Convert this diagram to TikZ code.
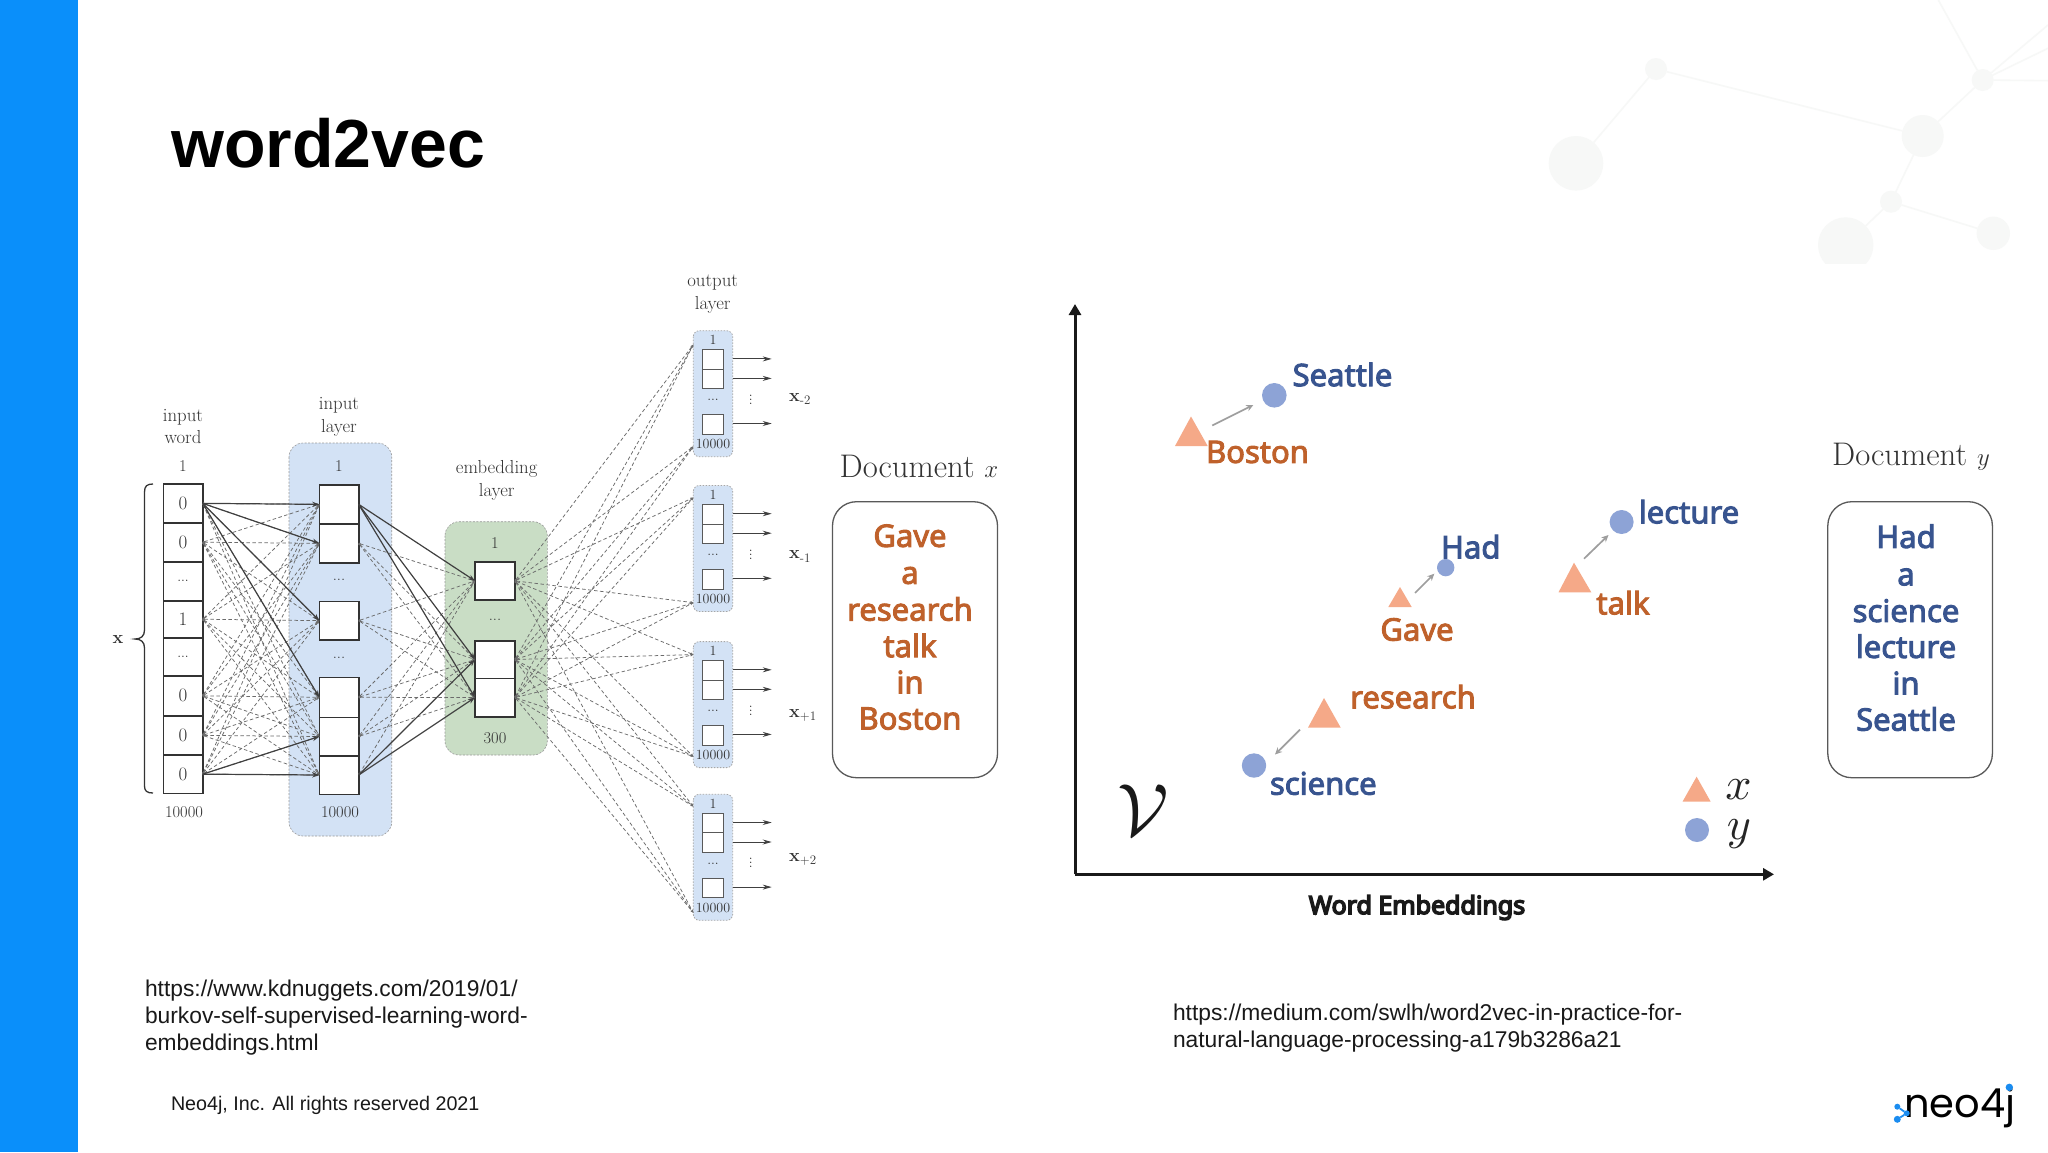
\documentclass[tikz,border=0pt]{standalone}
\usepackage{fontspec}
\usetikzlibrary{arrows.meta}
\newfontfamily\arialfont{Liberation Sans}
\newfontfamily\wordfont{Noto Sans}[FakeBold=3]
\newfontfamily\axisfont{Noto Sans}[FakeBold=6]
\newfontfamily\logofont{Poppins}
\definecolor{barblue}{HTML}{0A8FFA}
\definecolor{faint}{HTML}{F7F8F7}
\definecolor{layerblue}{HTML}{D3E2F5}
\definecolor{layergreen}{HTML}{C9DDC5}
\definecolor{inkdark}{HTML}{333333}
\definecolor{wordorange}{HTML}{BF612B}
\definecolor{wordblue}{HTML}{38548F}
\definecolor{tri}{HTML}{F5A988}
\definecolor{dotblue}{HTML}{8DA3D6}
\definecolor{logoblue}{HTML}{1A8CF0}
\tikzset{
  txt/.style={inner sep=0pt,outer sep=0pt,text=inkdark,font=\fontsize{18.8}{22.5}\selectfont,align=center},
  numtxt/.style={inner sep=0pt,outer sep=0pt,text=inkdark,font=\fontsize{16.5}{16.5}\selectfont},
  smalltxt/.style={inner sep=0pt,outer sep=0pt,text=inkdark,font=\fontsize{14}{14}\selectfont},
  cellbox/.style={draw=inkdark,line width=1.6pt,fill=white,inner sep=0pt,outer sep=0pt,minimum width=39.4pt,text=inkdark,font=\fontsize{19}{19}\selectfont},
  minibox/.style={draw=black!65,line width=1.1pt,fill=white,inner sep=0pt,outer sep=0pt,minimum width=21pt},
  layerzone/.style={rounded corners=14pt,dashed,dash pattern=on 2pt off 1.5pt,draw=black!40,line width=.6pt},
  minizone/.style={rounded corners=6pt,dash pattern=on 1.5pt off 1.5pt,draw=black!35,line width=.8pt,fill=layerblue},
  solidlink/.style={draw=black!75,line width=1.2pt,-{Stealth[length=7pt,width=5pt]}},
  dashlink/.style={draw=black!58,line width=.75pt,dash pattern=on 3.5pt off 2.5pt,{Circle[length=2pt]}-{Stealth[length=3pt,width=2.4pt]}},
  outlink/.style={draw=black!75,line width=.9pt,-{Stealth[length=9pt,width=5pt]}},
  shiftlink/.style={draw=black!38,line width=1.7pt,-{Stealth[length=7pt,width=6.5pt]}},
  axisline/.style={draw=black!90,line width=3pt,-{Triangle[length=11pt,width=12pt]}},
  bgnode/.style={circle,fill=faint,inner sep=0pt,outer sep=0pt},
  bgline/.style={draw=faint,line width=1.6pt},
  wo/.style={inner sep=0pt,outer sep=0pt,text=wordorange,font=\wordfont\fontsize{31}{31}\selectfont},
  wb/.style={inner sep=0pt,outer sep=0pt,text=wordblue,font=\wordfont\fontsize{31}{31}\selectfont},
  docbox/.style={draw=black!65,line width=1.3pt,rounded corners=24pt,fill=white},
  doctitle/.style={inner sep=0pt,outer sep=0pt,text=inkdark,font=\fontsize{32.7}{32.7}\selectfont},
  bluedot/.style={circle,fill=dotblue,inner sep=0pt,outer sep=0pt},
  slidetxt/.style={inner sep=0pt,outer sep=0pt,align=left,text=black!90,font=\arialfont\fontsize{22.8}{27.4}\selectfont},
  logodot/.style={circle,fill=logoblue,inner sep=0pt,outer sep=0pt},
}
\begin{document}
\begin{tikzpicture}[x=1pt,y=-1pt]
\useasboundingbox (0,0) rectangle (2048,1152);
\fill[white] (0,0) rectangle (2048,1152);
% faint background graph
\begin{scope}
\clip (1500,0) rectangle (2048,263.5);
\node[bgnode,minimum size=54.6pt] (ga) at (1576,163.3) {};
\node[bgnode,minimum size=22pt] (gb) at (1656,69) {};
\node[bgnode,minimum size=42pt] (gc) at (1922.7,136) {};
\node[bgnode,minimum size=22pt] (gd) at (1982.7,80) {};
\node[bgnode,minimum size=22pt] (ge) at (1891,201.7) {};
\node[bgnode,minimum size=55.4pt] (gf) at (1845.7,245) {};
\node[bgnode,minimum size=33.4pt] (gg) at (1993.3,233.3) {};
\coordinate (g1) at (1938.3,0);
\coordinate (g2) at (2048,25);
\coordinate (g3) at (2048,48.3);
\coordinate (g4) at (2048,80.7);
\draw[bgline] (gb)--(ga) (gb)--(gc) (gc)--(gd) (gd)--(g1) (gd)--(g2) (gd)--(g3) (gd)--(g4) (gc)--(ge) (ge)--(gf) (ge)--(gg);
\end{scope}
% bar and title
\fill[barblue] (0,0) rectangle (78.4,1152);
\node[anchor=base west,inner sep=0pt,font=\arialfont\bfseries\fontsize{68}{68}\selectfont,text=black] (title) at (171,167) {word2vec};
% left figure zones
\draw[layerzone,fill=layerblue] (289,443) rectangle (391.7,836);
\draw[layerzone,fill=layergreen] (445,521.7) rectangle (547.3,755);
% input word column
\foreach \n/\t/\b/\s in {1/484/522.7/0,2/522.7/561.7/0,3/561.7/600.7/{\fontsize{14}{14}\selectfont ...},4/600.7/637.7/1,5/637.7/676/{\fontsize{14}{14}\selectfont ...},6/676/715.7/0,7/715.7/755/0,8/755/793.3/0}
  \node[cellbox,minimum height={\b-\t}] (in\n) at (183,{(\t+\b)/2}) {\s};
% input layer
\foreach \n/\t/\b in {1/484.7/524,2/524/562.7,3/601.3/640,4/677.3/717.3,5/717.3/755.7,6/755.7/794.3}
  \node[cellbox,minimum height={\b-\t}] (hl\n) at (339,{(\t+\b)/2}) {};
% embedding layer
\foreach \n/\t/\b in {1/561.7/600,2/640.7/678.3,3/678.3/716.7}
  \node[cellbox,minimum height={\b-\t},minimum width=40pt] (em\n) at (495,{(\t+\b)/2}) {};
% labels
\node[txt] (lwd) at (183,426.5) {input\\word};
\node[numtxt] (lw1) at (183,466) {1};
\node[numtxt] (lw2) at (184,811.7) {10000};
\node[txt] (lil) at (339,417) {input\\layer};
\node[numtxt] (li1) at (339,466) {1};
\node[numtxt] (li2) at (340,811.7) {10000};
\node[numtxt] (lid1) at (339,580) {...};
\node[numtxt] (lid2) at (339,658) {...};
\node[txt] (lem) at (496.7,480.5) {embedding\\layer};
\node[numtxt] (le1) at (495,543) {1};
\node[numtxt] (led) at (495,620) {...};
\node[numtxt] (le2) at (495,738) {300};
\node[txt] (lout) at (712.7,294) {output\\layer};
\node[inner sep=0pt,text=inkdark,font=\bfseries\fontsize{18}{18}\selectfont] (lx) at (118,639) {x};
\draw[draw=inkdark,line width=1.3pt] (153,484) .. controls (147,484) and (144.5,486) .. (144.5,492) -- (144.5,630) .. controls (144.5,636) and (141,639) .. (135,639) .. controls (141,639) and (144.5,642) .. (144.5,648) -- (144.5,786) .. controls (144.5,791) and (147,793) .. (153,793);
% output groups
\foreach \g/\top/\yt/\yb/\lab/\ly in {1/330.7/344.6/446.5/{-2}/398.9,2/485.5/497.6/602.6/{-1}/556.7,3/641.6/654.6/756.5/{+1}/715.5,4/794.3/806.4/912.6/{+2}/859.4}{
  \draw[minizone] (693.3,\top) rectangle (732.7,\top+126);
  \node[smalltxt] (o\g n1) at (713,\top+9.5) {1};
  \node[smalltxt] (o\g n2) at (713,\top+113.6) {10000};
  \node[smalltxt] (o\g d) at (713,\top+69.5) {...};
  \node[minibox,minimum height=19.6pt] (o\g a) at (713.2,\top+28.8) {};
  \node[minibox,minimum height=19.4pt] (o\g b) at (713.2,\top+48.3) {};
  \node[minibox,minimum height=19.6pt] (o\g c) at (713.2,\top+93.8) {};
  \coordinate (o\g ea) at (771.7,\top+28.2);
  \coordinate (o\g eb) at (771.7,\top+47.7);
  \coordinate (o\g ec) at (771.7,\top+92.8);
  \coordinate (o\g sa) at (733,\top+28.2);
  \coordinate (o\g sb) at (733,\top+47.7);
  \coordinate (o\g sc) at (733,\top+92.8);
  \draw[outlink] (o\g sa)--(o\g ea);
  \draw[outlink] (o\g sb)--(o\g eb);
  \draw[outlink] (o\g sc)--(o\g ec);
  \node[inner sep=0pt,text=inkdark,font=\fontsize{14}{14}\selectfont] (o\g v) at (750.7,\top+66) {$\vdots$};
  \coordinate (t\g) at (693.3,\yt);
  \coordinate (b\g) at (693.3,\yb);
  \node[anchor=west,inner sep=0pt,text=inkdark,font=\bfseries\fontsize{18}{18}\selectfont] (ox\g) at (789,\ly) {x\raisebox{-3.5pt}{\mdseries\fontsize{13}{13}\selectfont\lab}};
}
% input word -> input layer
\foreach \a in {1,2,4,6,7,8}
  \foreach \b in {1,...,6}
    \draw[dashlink] (in\a.east)--(hl\b.west);
\foreach \b in {1,2,3,4} \draw[solidlink] (in1.east)--(hl\b.west);
\foreach \b in {5,6} \draw[solidlink] (in8.east)--(hl\b.west);
% input layer -> embedding
\foreach \a in {2,3,4,5}
  \foreach \b in {1,2,3}
    \draw[dashlink] (hl\a.east)--(em\b.west);
\draw[dashlink] (hl6.east)--(em1.west);
\foreach \b in {1,2,3} \draw[solidlink] (hl1.east)--(em\b.west);
\foreach \b in {2,3} \draw[solidlink] (hl6.east)--(em\b.west);
% embedding -> output
\foreach \a in {1,2,3}
  \foreach \g in {1,2,3,4}{
    \draw[dashlink] (em\a.east)--(t\g);
    \draw[dashlink] (em\a.east)--(b\g);
  }
% document boxes
\node[doctitle] (dxt) at (919,466) {Document $x$};
\node[doctitle] (dyt) at (1911,456.7) {Document $y$};
\draw[docbox] (832.5,501.7) rectangle (997.5,777.7);
\draw[docbox] (1827.8,501.7) rectangle (1992.4,777.7);
\foreach \n/\w/\y in {1/Gave/535.8,2/a/575.5,3/research/609,4/talk/645.5,5/in/682,6/Boston/718.6}
  \node[wo] (dx\n) at (910,\y) {\w};
\foreach \n/\w/\y in {1/Had/536.3,2/a/577,3/science/610.7,4/lecture/646.3,5/in/683,6/Seattle/719}
  \node[wb] (dy\n) at (1906,\y) {\w};
% axes
\coordinate (ax0) at (1075,874.3);
\coordinate (axx) at (1774,874.3);
\coordinate (axy) at (1075,304);
\draw[axisline] (ax0)--(axx);
\draw[axisline] (ax0)--(axy);
\node[inner sep=0pt,text=black!90,font=\axisfont\fontsize{25}{25}\selectfont] (axl) at (1417,907.5) {Word Embeddings};
\node[inner sep=0pt,scale=7.4,text=black!90] (vv) at (1143,810) {$\mathcal{V}$};
% triangles
\fill[tri] (1175,446) -- (1191,416.5) -- (1207.7,446) -- cycle;
\fill[tri] (1388.3,607) -- (1400,587) -- (1411.7,607) -- cycle;
\fill[tri] (1308,727.6) -- (1324,698) -- (1340.7,727.6) -- cycle;
\fill[tri] (1558.5,592.3) -- (1574,562.7) -- (1591.3,592.3) -- cycle;
\fill[tri] (1682.5,801.7) -- (1696.6,776.7) -- (1710.7,801.7) -- cycle;
% dots
\node[bluedot,minimum size=24.6pt] (dseattle) at (1274.3,395.3) {};
\node[bluedot,minimum size=17.4pt] (dhad) at (1445.7,567.6) {};
\node[bluedot,minimum size=24.4pt] (dscience) at (1254,765.5) {};
\node[bluedot,minimum size=24pt] (dlecture) at (1621.6,522) {};
\node[bluedot,minimum size=24pt] (dlegend) at (1697,830) {};
% shift arrows
\coordinate (s1a) at (1212.3,425.5); \coordinate (s1b) at (1253.3,405);
\coordinate (s2a) at (1415,593); \coordinate (s2b) at (1434.3,573.7);
\coordinate (s3a) at (1300,729.6); \coordinate (s3b) at (1275,754.5);
\coordinate (s4a) at (1584,558.7); \coordinate (s4b) at (1608.5,535);
\draw[shiftlink] (s1a)--(s1b);
\draw[shiftlink] (s2a)--(s2b);
\draw[shiftlink] (s3a)--(s3b);
\draw[shiftlink] (s4a)--(s4b);
% chart words
\node[wb] (wseattle) at (1342.5,374.5) {Seattle};
\node[wo] (wboston) at (1257.5,452) {Boston};
\node[wb] (whad) at (1470.7,546.7) {Had};
\node[wo] (wgave) at (1417,629.5) {Gave};
\node[wo] (wresearch) at (1413,696.7) {research};
\node[wb] (wscience) at (1323.3,783.4) {science};
\node[wb] (wlecture) at (1689,511.7) {lecture};
\node[wo] (wtalk) at (1623,602.7) {talk};
\node[inner sep=0pt,scale=4.6,text=black!85] (lgx) at (1738.6,790) {$x$};
\node[inner sep=0pt,scale=4.6,text=black!85] (lgy) at (1739,834) {$y$};
% slide text
\node[slidetxt,anchor=north west] (url1) at (145,979.5) {https://www.kdnuggets.com/2019/01/\\burkov-self-supervised-learning-word-\\embeddings.html};
\node[slidetxt,anchor=north west] (url2) at (1173,1004) {https://medium.com/swlh/word2vec-in-practice-for-\\natural-language-processing-a179b3286a21};
\node[slidetxt,anchor=west,font=\arialfont\fontsize{19.7}{19.7}\selectfont] (foot) at (171,1105.5) {Neo4j, Inc. All rights reserved 2021};
% logo
\node[anchor=base west,inner sep=0pt,text=black,font=\logofont\fontsize{40}{40}\selectfont] (logo) at (1904,1117) {neo4j};
\node[logodot,minimum size=7.4pt] (lj) at (2009.3,1087.3) {};
\node[logodot,minimum size=6pt] (la) at (1897.3,1106.7) {};
\node[logodot,minimum size=6pt] (lb) at (1906.7,1113.3) {};
\node[logodot,minimum size=7pt] (lc) at (1897.3,1119.3) {};
\draw[logoblue,line width=1.8pt] (la)--(lb) (lb)--(lc);
\end{tikzpicture}
\end{document}
